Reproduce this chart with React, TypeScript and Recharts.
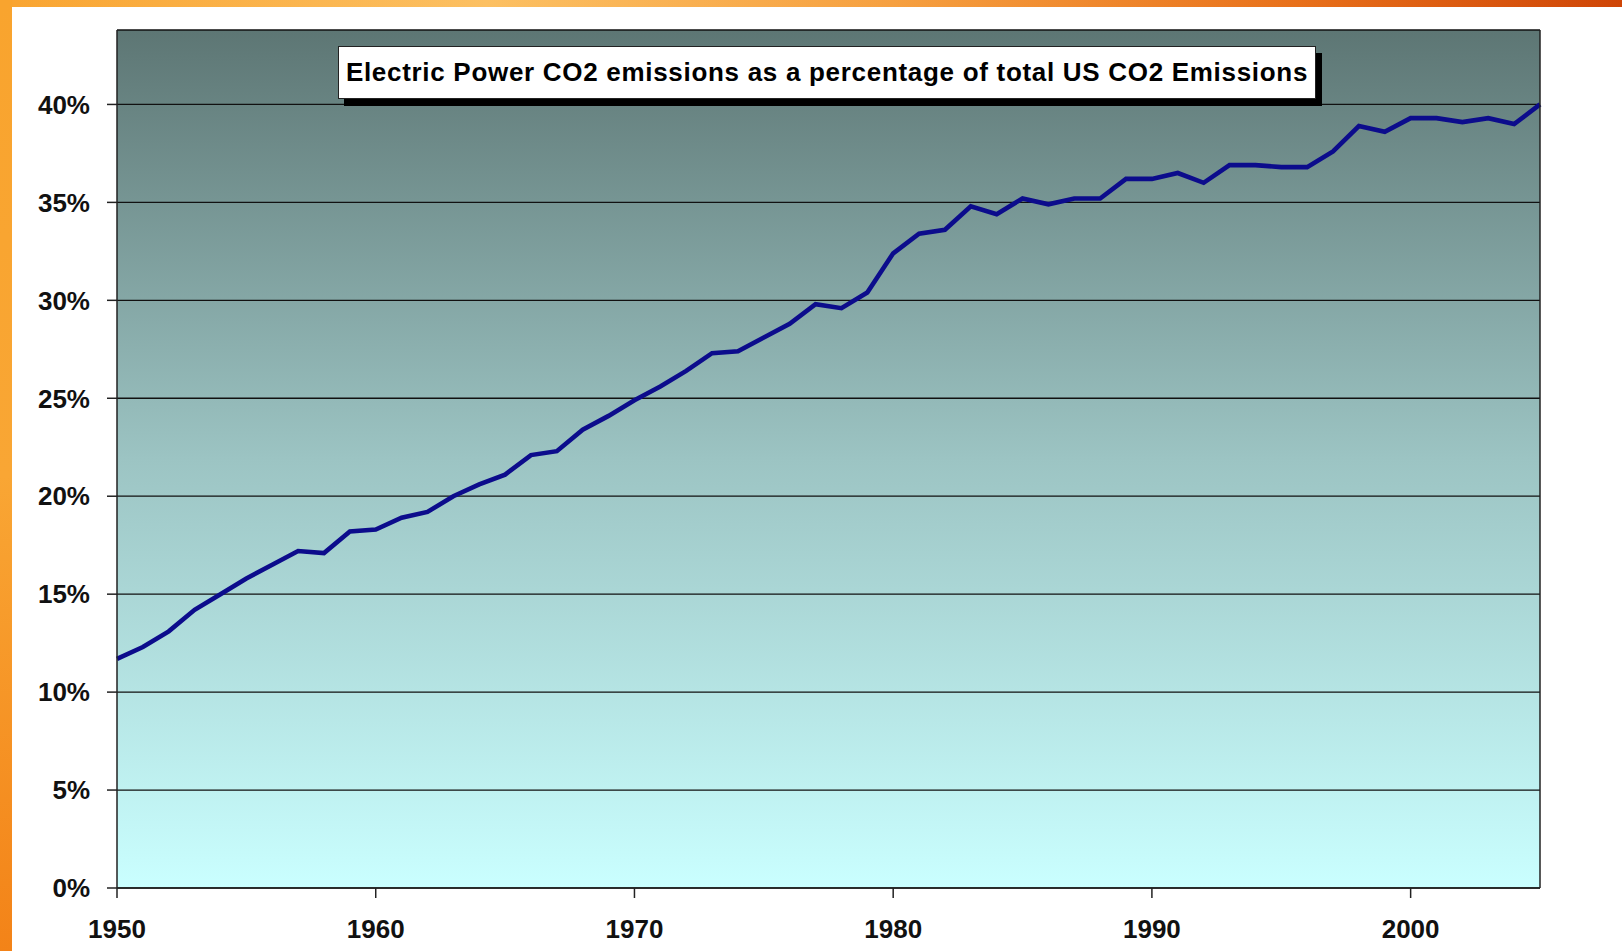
import { LineChart, Line, XAxis, YAxis, CartesianGrid } from 'recharts'

const years = [
  1950, 1951, 1952, 1953, 1954, 1955, 1956, 1957, 1958, 1959,
  1960, 1961, 1962, 1963, 1964, 1965, 1966, 1967, 1968, 1969,
  1970, 1971, 1972, 1973, 1974, 1975, 1976, 1977, 1978, 1979,
  1980, 1981, 1982, 1983, 1984, 1985, 1986, 1987, 1988, 1989,
  1990, 1991, 1992, 1993, 1994, 1995, 1996, 1997, 1998, 1999,
  2000, 2001, 2002, 2003, 2004, 2005,
]

const sharePct = [
  11.7, 12.3, 13.1, 14.2, 15.0, 15.8, 16.5, 17.2, 17.1, 18.2,
  18.3, 18.9, 19.2, 20.0, 20.6, 21.1, 22.1, 22.3, 23.4, 24.1,
  24.9, 25.6, 26.4, 27.3, 27.4, 28.1, 28.8, 29.8, 29.6, 30.4,
  32.4, 33.4, 33.6, 34.8, 34.4, 35.2, 34.9, 35.2, 35.2, 36.2,
  36.2, 36.5, 36.0, 36.9, 36.9, 36.8, 36.8, 37.6, 38.9, 38.6,
  39.3, 39.3, 39.1, 39.3, 39.0, 40.0,
]

const yTicks = [0, 5, 10, 15, 20, 25, 30, 35, 40]
const xTicks = [1950, 1960, 1970, 1980, 1990, 2000]

const title = 'Electric Power CO2 emissions as a percentage of total US CO2 Emissions'

const data = years.map((year, i) => ({ year, share: sharePct[i] }))

const font = '"Liberation Sans", Arial, sans-serif'

export default function App() {
  const tickStyle = { fontFamily: font, fontSize: 26, fontWeight: 700, fill: '#111' }

  return (
    <div
      style={{
        position: 'absolute',
        left: 0,
        top: 0,
        width: 1622,
        height: 951,
        background: '#fff',
        overflow: 'hidden',
      }}
    >
      {/* orange frame of the slide */}
      <div
        style={{
          position: 'absolute',
          left: 0,
          top: 0,
          width: 1622,
          height: 7,
          background: 'linear-gradient(90deg, #f9a430 0%, #fcc062 30%, #f6a040 55%, #e8701a 80%, #cf4506 100%)',
        }}
      />
      <div
        style={{
          position: 'absolute',
          left: 0,
          top: 0,
          width: 12,
          height: 951,
          background: 'linear-gradient(180deg, #f9a42e 0%, #f9a634 50%, #f38318 100%)',
        }}
      />

      <svg width={0} height={0} style={{ position: 'absolute' }}>
        <defs>
          <linearGradient id="plotBg" x1="0" y1="0" x2="0" y2="1">
            <stop offset="0%" stopColor="#5d7674" />
            <stop offset="50%" stopColor="#9cc4c3" />
            <stop offset="100%" stopColor="#caffff" />
          </linearGradient>
        </defs>
      </svg>

      <div style={{ position: 'absolute', left: 0, top: 0 }}>
        <LineChart
          width={1622}
          height={951}
          data={data}
          margin={{ top: 30, right: 0, bottom: 0, left: 0 }}
        >
          <CartesianGrid
            vertical={false}
            stroke="#111"
            strokeWidth={1.3}
            fill="url(#plotBg)"
            fillOpacity={1}
          />
          <XAxis
            dataKey="year"
            type="number"
            domain={[1950, 2005]}
            ticks={xTicks}
            height={63}
            tickSize={10}
            tickMargin={22}
            stroke="#222"
            strokeWidth={1.5}
            tick={tickStyle}
          />
          <YAxis
            domain={[0, 43.8]}
            ticks={yTicks}
            width={117}
            tickSize={10}
            tickMargin={17}
            stroke="#222"
            strokeWidth={1.5}
            tick={tickStyle}
            tickFormatter={(v) => `${v}%`}
          />
          <YAxis
            yAxisId="right"
            orientation="right"
            domain={[0, 43.8]}
            ticks={yTicks}
            width={82}
            tickSize={10}
            tickMargin={13}
            stroke="#222"
            strokeWidth={1.5}
            tick={tickStyle}
            tickFormatter={(v) => `${v}%`}
          />
          <Line
            type="linear"
            dataKey="share"
            stroke="#0c0c8c"
            strokeWidth={4.6}
            dot={false}
            activeDot={false}
            isAnimationActive={false}
          />
        </LineChart>
      </div>

      <div
        style={{
          position: 'absolute',
          left: 338,
          top: 46,
          width: 976,
          height: 51,
          border: '1px solid #222',
          background: '#fff',
          boxShadow: '6px 7px 0 #000',
          display: 'flex',
          alignItems: 'center',
          justifyContent: 'center',
          fontFamily: font,
          fontWeight: 700,
          fontSize: 26,
          letterSpacing: 0.7,
          color: '#000',
          whiteSpace: 'nowrap',
        }}
      >
        {title}
      </div>
    </div>
  )
}
